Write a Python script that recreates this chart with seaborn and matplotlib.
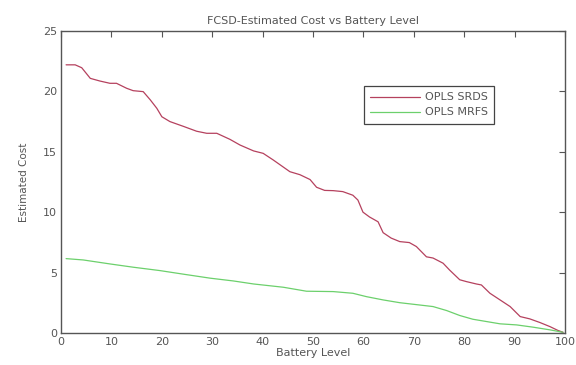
import matplotlib
matplotlib.use("Agg")
import matplotlib.pyplot as plt
import seaborn as sns
import pandas as pd

srds_x = [1, 2.8, 4.1, 5.8, 7.7, 9.7, 11, 13, 14.3, 16.3, 17.7, 19, 20, 21.6, 24.3, 26.9, 28.9,
          30.9, 33.5, 35.5, 38.2, 40.1, 42.1, 45.4, 47.4, 49.4, 50.7, 52.3, 54, 55.9, 57.9, 58.9,
          59.9, 61.2, 62.9, 63.9, 65.5, 67.2, 69.1, 70.5, 72.5, 73.8, 75.8, 77.1, 79.1, 80.4,
          82.4, 83.4, 85.1, 87.1, 89.1, 91.1, 93, 95, 97, 98.6, 99.6]
srds_y = [22.2, 22.2, 21.96, 21.08, 20.86, 20.67, 20.67, 20.26, 20.06, 19.98, 19.3, 18.6, 17.9,
          17.5, 17.1, 16.7, 16.53, 16.53, 16.03, 15.56, 15.07, 14.87, 14.32, 13.35, 13.1, 12.7,
          12.06, 11.8, 11.78, 11.7, 11.4, 11.0, 10.0, 9.6, 9.2, 8.3, 7.85, 7.56, 7.48, 7.15, 6.3,
          6.2, 5.77, 5.2, 4.4, 4.25, 4.05, 3.97, 3.28, 2.73, 2.18, 1.35, 1.16, 0.86, 0.52, 0.2, 0.05]

mrfs_x = [1, 4.4, 9.7, 14.3, 19.6, 24.3, 29.6, 34.2, 38.2, 44.1, 48.7, 54, 57.9, 60.6, 63.9,
          67.2, 70.5, 73.8, 76.5, 79.1, 81.7, 84.4, 87.1, 90.4, 93.7, 97, 99.6]
mrfs_y = [6.15, 6.04, 5.71, 5.44, 5.16, 4.86, 4.53, 4.3, 4.05, 3.78, 3.45, 3.42, 3.28, 3.0, 2.73,
          2.5, 2.34, 2.18, 1.85, 1.44, 1.13, 0.94, 0.75, 0.66, 0.47, 0.25, 0.05]

series_names = ["OPLS SRDS", "OPLS MRFS"]

df = pd.concat([
    pd.DataFrame({"Battery Level": srds_x, "Estimated Cost": srds_y, "Series": series_names[0]}),
    pd.DataFrame({"Battery Level": mrfs_x, "Estimated Cost": mrfs_y, "Series": series_names[1]}),
], ignore_index=True)

sns.set_style("white")
plt.rcParams["font.family"] = ["DejaVu Sans"]
text_color = "#555555"

fig = plt.figure(figsize=(5.76, 3.65), dpi=100)
ax = fig.add_axes([0.106, 0.088, 0.875, 0.827])

sns.lineplot(data=df, x="Battery Level", y="Estimated Cost", hue="Series",
             palette={"OPLS SRDS": "#b5415e", "OPLS MRFS": "#6cd06c"},
             linewidth=0.9, ax=ax, sort=False, estimator=None)

ax.set_xlim(0, 100)
ax.set_ylim(0, 25)
ax.set_xticks(range(0, 101, 10))
ax.set_yticks(range(0, 26, 5))
ax.tick_params(direction="in", top=True, right=True, length=4, labelsize=8,
               colors="#555555", labelcolor=text_color, pad=3)
for s in ax.spines.values():
    s.set_color("#555555")
    s.set_linewidth(1.0)

ax.set_title("FCSD-Estimated Cost vs Battery Level", fontsize=8, color=text_color, pad=5)
ax.set_xlabel("Battery Level", fontsize=8, color=text_color, labelpad=1)
ax.set_ylabel("Estimated Cost", fontsize=7.5, color=text_color, labelpad=10)

leg = ax.legend(loc="upper left", bbox_to_anchor=(0.59, 0.835), fontsize=8,
                frameon=True, fancybox=False, edgecolor="#444444", framealpha=1,
                handlelength=4.5, borderpad=0.55, labelspacing=0.45, handletextpad=0.4)
leg.get_frame().set_linewidth(0.9)
for t in leg.get_texts():
    t.set_color(text_color)

fig.savefig("out.png", dpi=100)
